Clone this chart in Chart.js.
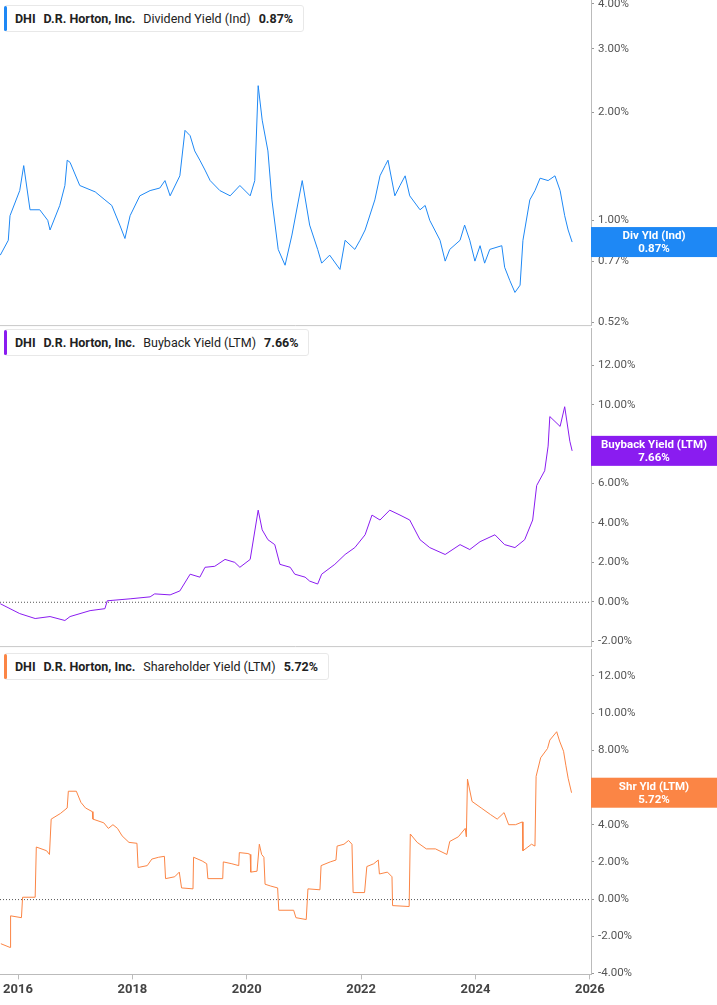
<!DOCTYPE html>
<html>
<head>
<meta charset="utf-8">
<script src="https://cdn.jsdelivr.net/npm/chart.js@4/dist/chart.umd.min.js"></script>
<style>
  body { margin: 0; background: #fff; font-family: Roboto, sans-serif; }
  #wrap { position: relative; width: 717px; height: 1005px; overflow: hidden; }
  .panel { position: absolute; left: 0; width: 717px; }
  .legend {
    position: absolute; left: 4px; height: 25px; padding: 0 10px 0 10px;
    background: #fff; border: 1px solid #e8e8e8; border-radius: 3px;
    font-size: 12.5px; line-height: 25px; color: #222; white-space: nowrap;
  }
  .legend::before { content: ""; position: absolute; left: -1px; top: 0; bottom: 0; width: 3px; background: var(--c); border-radius: 2px; }
  .legend b { font-weight: 700; margin-right: 8px; }
  .legend span { margin-right: 8px; }
</style>
</head>
<body>
<div id="wrap">
  <div class="panel" style="top:-10px;height:346px"><canvas id="c1"></canvas></div>
  <div class="panel" style="top:318px;height:339px"><canvas id="c2"></canvas></div>
  <div class="panel" style="top:639px;height:366px"><canvas id="c3"></canvas></div>
  <div class="legend" style="--c:#1e88f5;top:5px"><b>DHI</b><b>D.R. Horton, Inc.</b><span>Dividend Yield (Ind)</span><b style="margin:0">0.87%</b></div>
  <div class="legend" style="--c:#8a1cf0;top:329px"><b>DHI</b><b>D.R. Horton, Inc.</b><span>Buyback Yield (LTM)</span><b style="margin:0">7.66%</b></div>
  <div class="legend" style="--c:#fb8545;top:653px"><b>DHI</b><b>D.R. Horton, Inc.</b><span>Shareholder Yield (LTM)</span><b style="margin:0">5.72%</b></div>
</div>
<script>
// Dividend yield (Ind), %
const divYears = [2015.69,2015.83,2015.86,2016.03,2016.10,2016.21,2016.38,2016.52,2016.56,2016.73,2016.82,2016.86,2016.91,2017.08,2017.35,2017.52,2017.64,2017.78,2017.87,2017.96,2018.13,2018.31,2018.48,2018.57,2018.66,2018.83,2018.92,2019.01,2019.09,2019.18,2019.27,2019.36,2019.53,2019.71,2019.88,2020.06,2020.14,2020.20,2020.27,2020.37,2020.44,2020.55,2020.67,2020.79,2020.97,2021.10,2021.24,2021.31,2021.45,2021.63,2021.72,2021.89,2021.98,2022.07,2022.24,2022.33,2022.42,2022.47,2022.59,2022.68,2022.77,2022.85,2023.03,2023.12,2023.20,2023.38,2023.47,2023.55,2023.73,2023.81,2023.90,2023.99,2024.08,2024.16,2024.25,2024.46,2024.51,2024.60,2024.69,2024.78,2024.83,2024.95,2025.04,2025.13,2025.27,2025.39,2025.48,2025.56,2025.62,2025.69];
const divValues = [0.80,0.88,1.03,1.21,1.42,1.07,1.07,1.00,0.94,1.10,1.25,1.47,1.45,1.25,1.20,1.14,1.10,0.97,0.89,1.03,1.17,1.21,1.23,1.29,1.17,1.33,1.78,1.72,1.56,1.47,1.38,1.29,1.21,1.17,1.25,1.17,1.29,2.37,1.90,1.56,1.14,0.83,0.75,0.91,1.29,0.97,0.83,0.76,0.80,0.73,0.88,0.83,0.88,0.94,1.14,1.33,1.42,1.47,1.17,1.25,1.33,1.17,1.07,1.10,1.00,0.88,0.77,0.83,0.88,0.97,0.88,0.77,0.85,0.76,0.83,0.85,0.74,0.68,0.63,0.66,0.88,1.14,1.21,1.31,1.29,1.33,1.21,1.03,0.94,0.87];
const divTicks = [0.52, 0.77, 1, 2, 3, 4];

// Buyback yield (LTM), %
const bbYears = [2015.69,2015.86,2016.03,2016.30,2016.56,2016.82,2016.91,2017.26,2017.52,2017.56,2017.96,2018.31,2018.39,2018.66,2018.83,2019.01,2019.18,2019.27,2019.44,2019.62,2019.79,2019.88,2020.06,2020.20,2020.27,2020.37,2020.49,2020.58,2020.76,2020.84,2021.02,2021.10,2021.24,2021.31,2021.54,2021.72,2021.89,2022.07,2022.19,2022.33,2022.50,2022.68,2022.85,2023.03,2023.20,2023.47,2023.73,2023.90,2024.08,2024.34,2024.51,2024.69,2024.86,2025.00,2025.07,2025.21,2025.27,2025.30,2025.39,2025.48,2025.56,2025.65,2025.69];
const bbValues = [-0.10,-0.35,-0.60,-0.85,-0.75,-0.95,-0.75,-0.45,-0.35,0.05,0.15,0.25,0.40,0.35,0.55,1.40,1.25,1.75,1.80,2.15,2.00,1.75,2.15,4.65,3.65,3.15,2.90,1.90,1.75,1.40,1.25,1.05,0.90,1.40,1.90,2.40,2.75,3.40,4.40,4.15,4.65,4.40,4.15,3.15,2.75,2.40,2.90,2.65,3.05,3.40,2.90,2.75,3.15,4.15,5.90,6.65,7.90,9.40,9.15,8.90,9.90,8.15,7.66];
const bbTicks = [-2, 0, 2, 4, 6, 8, 10, 12];

// Shareholder yield (LTM), %
const shYears = [2015.70,2015.86,2015.87,2016.06,2016.08,2016.30,2016.32,2016.50,2016.55,2016.58,2016.74,2016.86,2016.88,2017.02,2017.10,2017.18,2017.30,2017.31,2017.50,2017.58,2017.66,2017.74,2017.82,2017.94,2018.08,2018.10,2018.26,2018.34,2018.46,2018.56,2018.58,2018.74,2018.82,2018.86,2019.06,2019.07,2019.22,2019.30,2019.32,2019.58,2019.59,2019.74,2019.86,2019.87,2020.02,2020.06,2020.07,2020.18,2020.22,2020.26,2020.30,2020.32,2020.42,2020.54,2020.56,2020.82,2020.86,2021.04,2021.07,2021.28,2021.30,2021.46,2021.56,2021.58,2021.70,2021.78,2021.84,2021.86,2022.06,2022.10,2022.22,2022.30,2022.32,2022.46,2022.54,2022.55,2022.84,2022.86,2022.98,2023.14,2023.30,2023.50,2023.55,2023.70,2023.82,2023.84,2023.86,2023.94,2024.10,2024.26,2024.38,2024.50,2024.58,2024.70,2024.82,2024.83,2024.98,2025.04,2025.06,2025.14,2025.26,2025.30,2025.42,2025.47,2025.54,2025.58,2025.62,2025.68];
const shValues = [-2.4,-2.6,-0.9,-1.0,0.1,0.1,2.8,2.6,2.4,4.3,4.6,4.9,5.8,5.8,5.2,4.9,4.7,4.3,4.1,3.8,4.0,3.8,3.4,3.05,3.0,1.7,1.8,2.15,2.25,2.3,1.1,1.2,1.45,0.6,0.55,2.25,2.05,1.9,1.1,1.1,2.0,1.9,1.8,2.5,2.45,2.4,1.45,1.5,2.95,2.4,2.25,0.8,0.7,0.6,-0.6,-0.6,-1.0,-1.1,0.55,0.5,1.8,2.0,2.1,2.85,2.95,3.15,2.95,0.35,0.35,1.75,1.9,2.1,1.35,1.45,1.2,-0.35,-0.4,3.5,3.05,2.7,2.7,2.4,3.1,3.35,3.8,3.35,6.45,5.25,4.9,4.55,4.3,4.65,4.0,4.0,4.15,2.6,2.95,2.85,6.6,7.6,8.1,8.55,9.0,8.5,7.95,7.2,6.5,5.72];
const shTicks = [-4, -2, 0, 2, 4, 6, 8, 10, 12];

const xTicks = [2016, 2018, 2020, 2022, 2024, 2026];
const X_MIN = 2015.685, X_MAX = 2026.02;

const toPoints = (xs, ys) => xs.map((x, i) => ({ x: x, y: ys[i] }));

// zero line, panel separator and the last-value tag on the right axis
const extras = {
  id: 'extras',
  afterDraw(chart, args, opts) {
    const { ctx, chartArea: a, scales: { y } } = chart;
    ctx.save();
    if (opts.zero) {
      const zy = y.getPixelForValue(0);
      ctx.strokeStyle = '#555';
      ctx.lineWidth = 1;
      ctx.setLineDash([1, 2]);
      ctx.beginPath(); ctx.moveTo(a.left, zy + 0.5); ctx.lineTo(a.right, zy + 0.5); ctx.stroke();
      ctx.setLineDash([]);
    }
    if (opts.sep) {
      ctx.strokeStyle = '#c8c8c8';
      ctx.beginPath(); ctx.moveTo(0, a.bottom + 0.5); ctx.lineTo(a.right, a.bottom + 0.5); ctx.stroke();
    }
    const ty = y.getPixelForValue(opts.last);
    ctx.fillStyle = opts.color;
    ctx.fillRect(a.right, ty - 15, chart.width - a.right, 30);
    ctx.fillStyle = '#fff';
    ctx.font = 'bold 11.5px Roboto';
    ctx.textAlign = 'center';
    ctx.textBaseline = 'middle';
    const cx = a.right + (chart.width - a.right) / 2;
    ctx.fillText(opts.label, cx, ty - 6);
    ctx.fillText(opts.last.toFixed(2) + '%', cx, ty + 7);
    ctx.restore();
  }
};

const makeChart = (id, pts, color, yOpts, ext, showX) => new Chart(document.getElementById(id), {
  type: 'line',
  data: { datasets: [{ data: pts, borderColor: color, borderWidth: 1, pointRadius: 0, tension: 0 }] },
  options: {
    animation: false, responsive: true, maintainAspectRatio: false,
    layout: { padding: { top: 0, bottom: showX ? 4 : 0, left: 0, right: 0 } },
    plugins: { legend: { display: false }, tooltip: { enabled: false }, extras: ext },
    scales: {
      x: {
        type: 'linear', min: X_MIN, max: X_MAX, display: showX,
        afterBuildTicks: s => { s.ticks = xTicks.map(v => ({ value: v })); },
        ticks: { color: '#444', font: { family: 'Roboto', size: 13, weight: 'bold' }, callback: v => String(v), maxRotation: 0 },
        grid: { drawOnChartArea: false, tickLength: 5, color: '#bbb' },
        border: { color: '#bbb' }
      },
      y: Object.assign({
        position: 'right',
        afterFit: s => { s.width = 126; },
        ticks: { color: '#555', font: { family: 'Roboto', size: 11.5 }, padding: 4, callback: v => Number(v).toFixed(2) + '%' },
        grid: { drawOnChartArea: false, tickLength: 3, color: '#999' },
        border: { color: '#bbb' }
      }, yOpts)
    }
  },
  plugins: [extras]
});

makeChart('c1', toPoints(divYears, divValues), '#1e88f5',
  { type: 'logarithmic', min: 0.511, max: 4.08, afterBuildTicks: s => { s.ticks = divTicks.map(v => ({ value: v })); } },
  { last: 0.87, label: 'Div Yld (Ind)', color: '#1e88f5', sep: true }, false);

makeChart('c2', toPoints(bbYears, bbValues), '#8a1cf0',
  { type: 'linear', min: -2.25, max: 13.85, afterBuildTicks: s => { s.ticks = bbTicks.map(v => ({ value: v })); } },
  { last: 7.66, label: 'Buyback Yield (LTM)', color: '#8a1cf0', sep: true, zero: true }, false);

makeChart('c3', toPoints(shYears, shValues), '#fb8545',
  { type: 'linear', min: -4.05, max: 13.4, afterBuildTicks: s => { s.ticks = shTicks.map(v => ({ value: v })); } },
  { last: 5.72, label: 'Shr Yld (LTM)', color: '#fb8545', zero: true }, true);
</script>
</body>
</html>
